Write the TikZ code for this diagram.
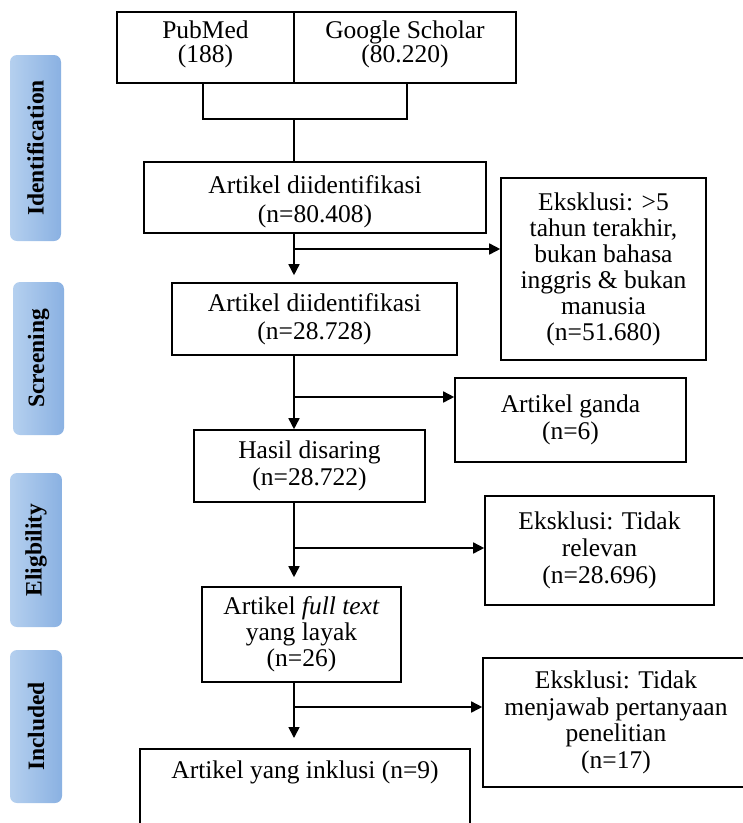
\documentclass[tikz,border=0pt]{standalone}
\usepackage{graphicx}
\usepackage{fontspec}
\setmainfont{Liberation Serif}
\newfontfamily\tabfont{Liberation Serif}
\usetikzlibrary{arrows.meta,calc}
\definecolor{tabL}{HTML}{B5D0EF}
\definecolor{tabR}{HTML}{8AB1E2}
\newcommand{\tabtext}[1]{\rotatebox{90}{#1}}
\begin{document}
\begin{tikzpicture}[x=1pt,y=-1pt,
  box/.style={draw, line width=1.6pt, rectangle, inner sep=0pt, align=center,
    font=\fontsize{25.5}{26.5}\selectfont},
  ls/.style={font=\fontsize{25.5}{#1}\selectfont},
  tab/.style={rectangle, rounded corners=7pt, inner sep=0pt, left color=tabL,
    right color=tabR, font=\tabfont\bfseries\fontsize{23.5}{26}\selectfont},
  arr/.style={line width=1.6pt, -{Triangle[length=11pt,width=11pt]}},
  ln/.style={line width=1.6pt}]

\useasboundingbox (0,0) rectangle (743,823);
\clip (0,0) rectangle (743,823);

% stage tabs
\node[tab, minimum height=186pt, minimum width=51pt] (t1) at (35.5,148) {\tabtext{Identification}};
\node[tab, minimum height=153pt, minimum width=51pt] (t2) at (38.5,358.5) {\tabtext{Screening}};
\node[tab, minimum height=154pt, minimum width=52pt] (t3) at (36,550) {\tabtext{Eligbility}};
\node[tab, minimum height=153pt, minimum width=52pt] (t4) at (36,726.5) {\tabtext{Included}};

% sources
\node[box, ls=24pt, text height=45pt, text depth=15.3pt, minimum width=177pt, minimum height=71pt] (pub) at (205.5,47.5) {PubMed\\(188)};
\node[box, ls=24pt, text height=45pt, text depth=15.3pt, minimum width=222pt, minimum height=71pt] (gs) at (405,47.5) {Google Scholar\\(80.220)};

% main column
\node[box, ls=29pt, text height=55pt, text depth=6pt, minimum width=342pt, minimum height=71pt] (b1) at (315,197.5) {Artikel diidentifikasi\\(n=80.408)};
\node[box, ls=28.5pt, minimum width=285pt, minimum height=72pt] (b2) at (314.5,319) {Artikel diidentifikasi\\(n=28.728)};
\node[box, ls=27pt, minimum width=231pt, minimum height=72pt] (b3) at (309.5,466) {Hasil disaring\\(n=28.722)};
\node[box, ls=26pt, minimum width=199pt, minimum height=95pt] (b4) at (301.5,634.5) {Artikel \textit{full text}\\yang layak\\(n=26)};
\node[box, anchor=north, minimum width=330pt, text height=30pt, text depth=52pt] (b5) at (305,748) {Artikel yang inklusi (n=9)};

% exclusions
\node[box, ls=26pt, minimum width=205pt, minimum height=182pt] (e1) at (603.5,269) {Eksklusi: >5\\tahun terakhir,\\bukan bahasa\\inggris \& bukan\\manusia\\(n=51.680)};
\node[box, ls=27pt, minimum width=231pt, minimum height=84pt] (e2) at (570.5,420) {Artikel ganda\\(n=6)};
\node[box, ls=27pt, minimum width=229pt, minimum height=109pt] (e3) at (599.5,550.5) {Eksklusi: Tidak\\relevan\\(n=28.696)};
\node[box, ls=26.7pt, minimum width=266pt, minimum height=129pt] (e4) at (616,722.5) {Eksklusi: Tidak\\menjawab pertanyaan\\penelitian\\(n=17)};

% bracket joining the sources
\coordinate (bl) at (203,119);
\coordinate (br) at (407,119);
\coordinate (m) at (294,119);
\draw[ln] (bl |- pub.south) -- (bl) -- (br) -- (br |- gs.south);
\draw[ln] (m) -- (m |- b1.north);

% spine
\coordinate (sp) at (294,0);
\draw[arr, shorten >=7pt] (sp |- b1.south) -- (sp |- b2.north);
\draw[arr] (sp |- b2.south) -- (sp |- b3.north);
\draw[arr, shorten >=9pt] (sp |- b3.south) -- (sp |- b4.north);
\draw[arr, shorten >=10pt] (sp |- b4.south) -- (sp |- b5.north);

% branches
\coordinate (j1) at (294,249);
\coordinate (j2) at (294,397);
\coordinate (j3) at (294,548);
\coordinate (j4) at (294,707);
\draw[arr] (j1) -- (j1 -| e1.west);
\draw[arr] (j2) -- (j2 -| e2.west);
\draw[arr] (j3) -- (j3 -| e3.west);
\draw[arr] (j4) -- (j4 -| e4.west);
\end{tikzpicture}
\end{document}
